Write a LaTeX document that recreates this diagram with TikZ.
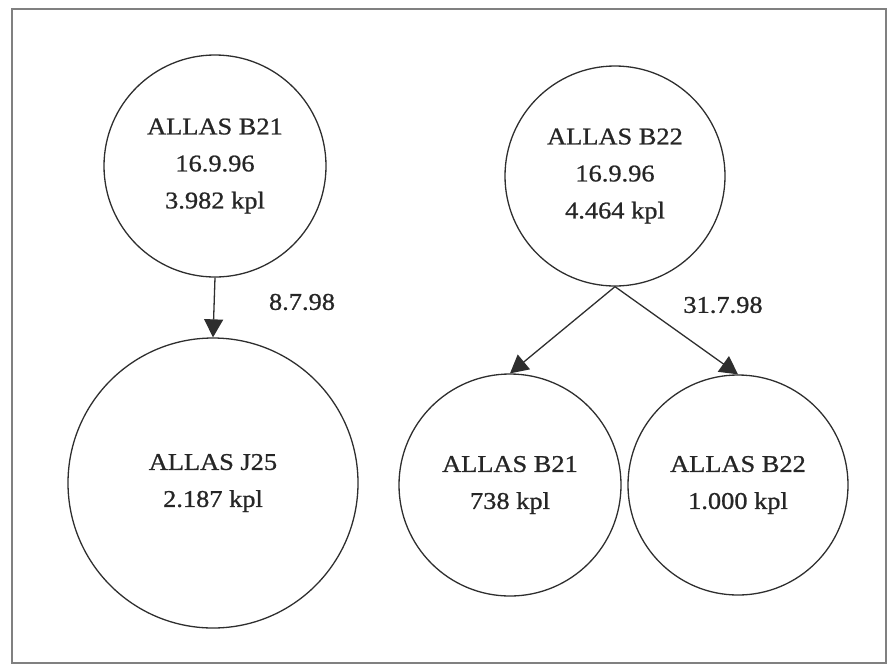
\documentclass[tikz,border=0pt]{standalone}
\usepackage{fontspec}
\setmainfont{Liberation Serif}[FakeStretch=1.1,FakeBold=0.9]
\usetikzlibrary{arrows.meta}
\begin{document}
\begin{tikzpicture}[x=1pt,y=-1pt,
  ring/.style={circle,draw=black!82,line width=1.3pt,inner sep=0pt,text=black!85,align=center,font=\fontsize{24}{37}\selectfont},
  conn/.style={draw=black!82,line width=1.3pt,-{Triangle[length=18pt,width=19pt]}},
  datelbl/.style={text=black!85,inner sep=0pt,font=\fontsize{24}{37}\selectfont}]
\useasboundingbox (0,0) rectangle (888,665);
\draw[black!50,line width=1.2pt] (12,9) rectangle (886,663);
\node[ring,minimum size=222pt] (a) at (215,166) {ALLAS B21\\16.9.96\\3.982 kpl};
\node[ring,minimum size=290pt] (b) at (213,483) {ALLAS J25\\2.187 kpl};
\node[ring,minimum size=220pt] (c) at (615,176) {ALLAS B22\\16.9.96\\4.464 kpl};
\node[ring,minimum size=222pt] (d) at (510,485) {ALLAS B21\\738 kpl};
\node[ring,minimum size=220pt] (e) at (738,485) {ALLAS B22\\1.000 kpl};
\draw[conn] (a.south) -- (b.north);
\draw[conn] (c.south) -- (d.north);
\draw[conn] (c.south) -- (e.north);
\node[datelbl] (l1) at (302,302) {8.7.98};
\node[datelbl] (l2) at (723,305) {31.7.98};
\end{tikzpicture}
\end{document}
